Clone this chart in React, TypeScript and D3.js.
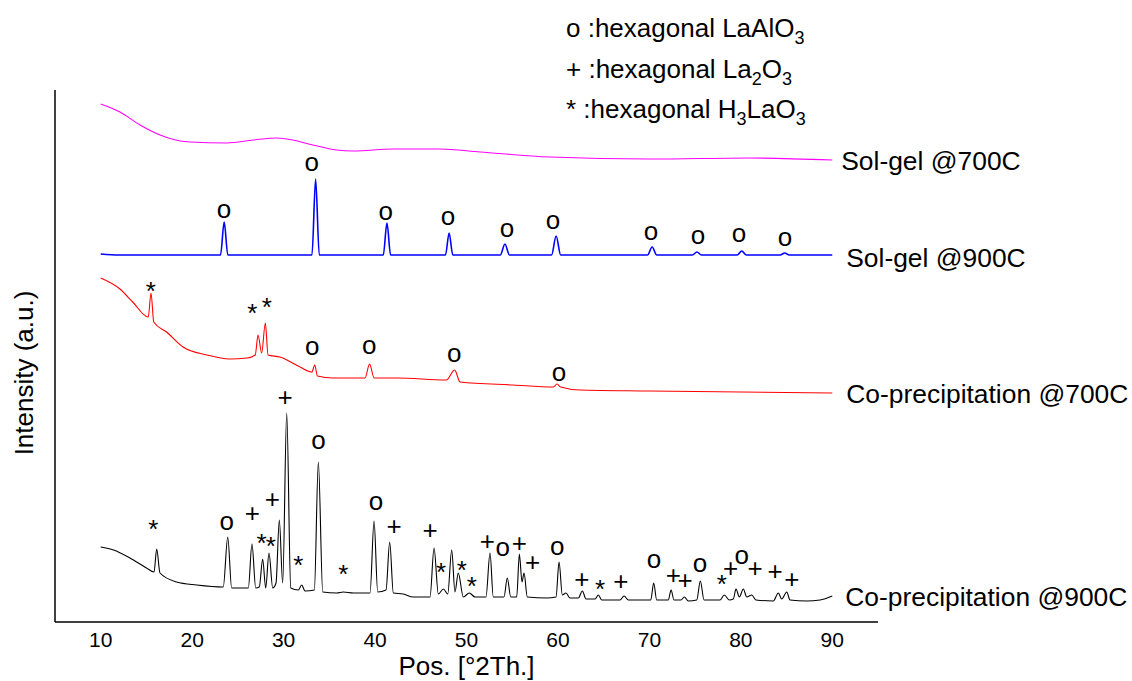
import React from 'react';
import * as d3 from 'd3';

const width = 1132;
const height = 681;
const font = '"Liberation Sans", Arial, sans-serif';

const xTicks = [10, 20, 30, 40, 50, 60, 70, 80, 90];

// [2theta, intensity (a.u., stacked)]
const solGel700: [number, number][] = [
  [10, 518], [12.1, 510], [14.3, 497], [16.5, 487], [18.7, 481], [19.8, 480],
  [23.8, 479], [26.7, 482], [29.3, 484], [31.0, 482], [33.2, 477], [35.8, 472],
  [37.6, 471], [42.0, 473], [47.1, 473], [51.5, 470], [59.1, 465], [70.1, 463],
  [81.0, 464], [90, 462],
];

const solGel900: [number, number][] = [
  [10, 368], [12, 367], [15, 367], [20, 367], [23.1, 367], [23.5, 400], [23.9, 367],
  [28, 367], [33.1, 367], [33.5, 443], [33.9, 367], [40.9, 367], [41.3, 399], [41.7, 367],
  [47.7, 367], [48.1, 389], [48.5, 367], [53.7, 367], [54.2, 378], [54.7, 367],
  [59.3, 367], [59.8, 386], [60.3, 367], [69.8, 367], [70.3, 375], [70.8, 367],
  [74.7, 367], [75.2, 370], [75.7, 367], [79.6, 367], [80.1, 371], [80.6, 367],
  [84.3, 367], [84.8, 369], [85.3, 367], [89.5, 367], [90, 367],
];

const coPrec700: [number, number][] = [
  [10, 344], [12.1, 333], [13.5, 320], [15.2, 305], [15.5, 329], [15.8, 300],
  [17.2, 290], [19.0, 275], [21.6, 267], [24.1, 263], [26.0, 264], [26.9, 267],
  [27.2, 287], [27.6, 269], [28.0, 299], [28.3, 267], [29.6, 265], [31.8, 255],
  [33.1, 250], [33.4, 257], [33.7, 246], [35.4, 244], [38.9, 244], [39.4, 258],
  [39.9, 244], [42.4, 244], [47.8, 242], [48.7, 252], [49.3, 240], [55.1, 237],
  [59.5, 235], [59.9, 238], [60.3, 235], [62.4, 232], [70, 231], [90, 229],
];

const coPrec900: [number, number][] = [
  [10.0, 75], [11.4, 72], [13.2, 64], [15.0, 54], [15.83, 50], [16.12, 73], [16.48, 49],
  [18.3, 40], [20.5, 37], [23.4, 35], [23.89, 85], [24.32, 34], [26.14, 34], [26.54, 78],
  [26.95, 34], [27.34, 35], [27.71, 63], [28.04, 34], [28.4, 69], [28.81, 34], [29.17, 39],
  [29.53, 102], [29.9, 39], [30.34, 209], [30.78, 34], [31.61, 32], [31.98, 37], [32.34, 31],
  [33.36, 32], [33.8, 160], [34.28, 30], [35.81, 29], [36.53, 30], [37.62, 29], [39.45, 29],
  [39.89, 101], [40.29, 30], [41.2, 32], [41.6, 80], [42.0, 29], [43.09, 28], [44.18, 25],
  [46.01, 25], [46.45, 74], [46.92, 28], [47.47, 33], [47.95, 28], [48.38, 72], [48.74, 30],
  [49.1, 49], [49.65, 25], [50.31, 29], [50.93, 25], [52.13, 25], [52.57, 69], [52.93, 25],
  [54.1, 25], [54.46, 44], [54.84, 25], [55.49, 25], [55.78, 68], [56.07, 40], [56.29, 49],
  [56.65, 25], [58.77, 24], [59.79, 25], [60.12, 60], [60.48, 27], [60.88, 29], [61.32, 24],
  [62.23, 24], [62.67, 31], [63.07, 23], [64.06, 23], [64.42, 27], [64.79, 22], [66.79, 22],
  [67.23, 26], [67.7, 22], [70.15, 22], [70.47, 39], [70.8, 22], [72.07, 22], [72.37, 32],
  [72.69, 22], [73.46, 22], [73.82, 25], [74.26, 21], [75.18, 22], [75.57, 41], [75.98, 22],
  [77.72, 22], [78.19, 27], [78.74, 22], [79.18, 23], [79.47, 33], [79.84, 25], [80.27, 33],
  [80.65, 25], [81.19, 27], [81.66, 22], [83.55, 21], [84.1, 29], [84.47, 23], [85.02, 30],
  [85.38, 22], [87.21, 21], [88.66, 22], [90, 26],
];

// phase markers: [2theta, intensity, symbol]
const solGel900Marks: [number, number, string][] = [
  [23.48, 411], [33.07, 458], [41.17, 409], [47.98, 404], [54.43, 392],
  [59.46, 400], [70.18, 389], [75.32, 385], [79.8, 387], [84.83, 383],
].map(([t, v]) => [t, v, 'o'] as [number, number, string]);

const coPrec700Marks: [number, number, string][] = [
  [15.47, 337, '*'], [26.58, 315, '*'], [28.15, 321, '*'],
  [33.14, 274, 'o'], [39.37, 275, 'o'], [48.67, 267, 'o'], [60.12, 248, 'o'],
];

const coPrec900Marks: [number, number, string][] = [
  [15.75, 99, '*'], [23.78, 99, 'o'], [26.58, 109, '+'], [28.76, 123, '+'], [30.15, 225, '+'],
  [27.6, 85, '*'], [28.59, 82, '*'], [31.61, 63, '*'], [33.8, 180, 'o'], [36.53, 54, '*'],
  [40.1, 119, 'o'], [42.07, 96, '+'], [46.01, 92, '+'], [47.21, 56, '*'], [49.48, 58, '*'],
  [50.57, 42, '*'], [52.28, 81, '+'], [53.96, 73, 'o'], [55.78, 79, '+'], [57.24, 60, '+'],
  [59.93, 74, 'o'], [62.6, 43, '+'], [64.6, 39, '*'], [66.87, 41, '+'], [70.51, 61, 'o'],
  [72.62, 47, '+'], [73.9, 42, '+'], [75.54, 57, 'o'], [77.91, 44, '*'], [78.89, 54, '+'],
  [80.1, 65, 'o'], [81.55, 54, '+'], [83.74, 51, '+'], [85.57, 43, '+'],
];

const series = [
  { name: 'Sol-gel @700C', color: '#ff00ff', width: 1.1, data: solGel700, marks: [], dx: 9, dy: 10 },
  { name: 'Sol-gel @900C', color: '#0000ff', width: 1.6, data: solGel900, marks: solGel900Marks, dx: 14, dy: 11.5 },
  { name: 'Co-precipitation @700C', color: '#ff0000', width: 1.1, data: coPrec700, marks: coPrec700Marks, dx: 14, dy: 10 },
  { name: 'Co-precipitation @900C', color: '#000000', width: 1.1, data: coPrec900, marks: coPrec900Marks, dx: 13, dy: 10 },
];

const markDy: Record<string, number> = { o: 7, '+': 9, '*': 14.5 };

export default function App() {
  const xScale = d3.scaleLinear().domain([5, 95]).range([55, 878]);
  const yScale = d3.scaleLinear().domain([0, 532]).range([622, 90]);
  const line = d3
    .line<[number, number]>()
    .x(d => xScale(d[0]))
    .y(d => yScale(d[1]))
    .curve(d3.curveMonotoneX);

  return (
    <svg
      width={width}
      height={height}
      style={{ position: 'absolute', left: 0, top: 0, background: '#fff', fontFamily: font }}
    >
      {/* axes */}
      <line x1={55} x2={55} y1={yScale(532)} y2={yScale(0)} stroke="#000" strokeWidth={1.5} />
      <line x1={55} x2={878} y1={yScale(0)} y2={yScale(0)} stroke="#000" strokeWidth={1.5} />
      {xTicks.map(t => (
        <text key={t} x={xScale(t)} y={646.5} fontSize={21} textAnchor="middle">
          {t}
        </text>
      ))}
      <text x={466.5} y={675} fontSize={26} textAnchor="middle">Pos. [°2Th.]</text>
      <text transform="translate(33,373) rotate(-90)" fontSize={26} textAnchor="middle">
        Intensity (a.u.)
      </text>

      {/* patterns */}
      {series.map(s => {
        const last = s.data[s.data.length - 1];
        return (
          <g key={s.name}>
            <path d={line(s.data) ?? ''} fill="none" stroke={s.color} strokeWidth={s.width} />
            {s.marks.map(([t, v, m], i) => (
              <text
                key={i}
                x={xScale(t)}
                y={yScale(v) + markDy[m]}
                fontSize={26}
                textAnchor="middle"
              >
                {m}
              </text>
            ))}
            <text x={xScale(last[0]) + s.dx} y={yScale(last[1]) + s.dy} fontSize={26.4}>
              {s.name}
            </text>
          </g>
        );
      })}

      {/* legend */}
      <g fontSize={26}>
        <text x={566} y={37}>
          o :hexagonal LaAlO<tspan fontSize={18} dy={7}>3</tspan>
        </text>
        <text x={566} y={78}>
          + :hexagonal La<tspan fontSize={18} dy={7}>2</tspan>
          <tspan dy={-7}>O</tspan>
          <tspan fontSize={18} dy={7}>3</tspan>
        </text>
        <text x={566} y={118}>
          * :hexagonal H<tspan fontSize={18} dy={7}>3</tspan>
          <tspan dy={-7}>LaO</tspan>
          <tspan fontSize={18} dy={7}>3</tspan>
        </text>
      </g>
    </svg>
  );
}
